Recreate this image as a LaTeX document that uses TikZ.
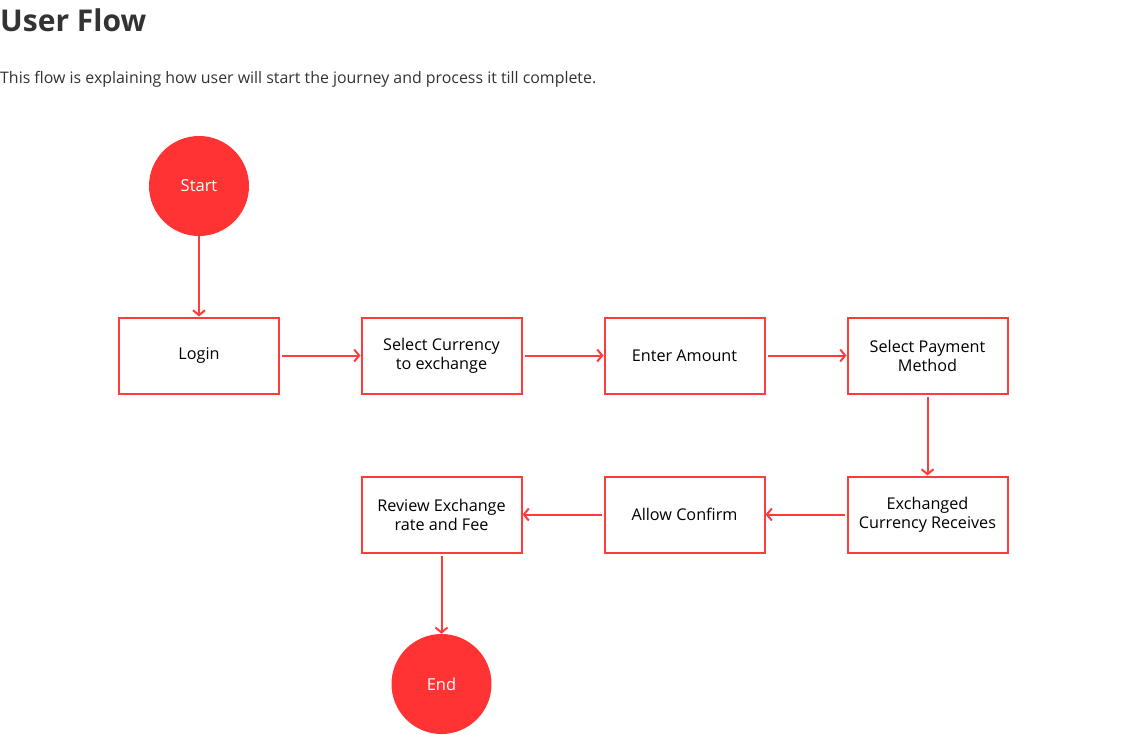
\documentclass[tikz,border=0pt]{standalone}
\usepackage{fontspec}
\setmainfont{Open Sans}
\usetikzlibrary{arrows.meta}
\definecolor{flowred}{HTML}{FF3B3B}
\definecolor{circred}{HTML}{FF3333}
\definecolor{titlegray}{HTML}{333333}
\tikzset{
  flowbox/.style={draw=flowred, line width=2pt, minimum width=160pt, minimum height=76pt, align=center, font=\fontsize{16.2}{19}\selectfont, text=black, inner sep=0pt},
  endpoint/.style={circle, fill=circred, minimum size=100pt, inner sep=0pt, text=white, font=\fontsize{16.5}{19}\selectfont},
  flowarrow/.style={draw=flowred, line width=2pt, -{Straight Barb[length=5pt,width=12pt,line width=2pt]}, shorten <=2pt}
}
\begin{document}
\begin{tikzpicture}[x=1pt,y=-1pt]
\useasboundingbox (0,0) rectangle (1131,734);
\node[anchor=base west, inner sep=0pt, text=titlegray, font=\fontsize{30}{36}\selectfont\bfseries] (title) at (0,31) {User Flow};
\node[anchor=base west, inner sep=0pt, text=titlegray, font=\fontsize{15.9}{19}\selectfont] (sub) at (0,83) {This flow is explaining how user will start the journey and process it till complete.};
\node[endpoint] (start) at (199,186) {Start};
\node[flowbox] (login) at (199,355.5) {Login};
\node[flowbox] (sel) at (441.5,355.5) {Select Currency\\to exchange};
\node[flowbox] (amt) at (684.5,355.5) {Enter Amount};
\node[flowbox] (pay) at (927.5,355.5) {Select Payment\\Method};
\node[flowbox] (exch) at (927.5,514.5) {Exchanged\\Currency Receives};
\node[flowbox] (allow) at (684.5,514.5) {Allow Confirm};
\node[flowbox] (rev) at (441.5,514.5) {Review Exchange\\rate and Fee};
\node[endpoint] (end) at (441.5,684) {End};
\draw[flowarrow, shorten <=0pt] (start) -- (login);
\draw[flowarrow] (login) -- (sel);
\draw[flowarrow] (sel) -- (amt);
\draw[flowarrow] (amt) -- (pay);
\draw[flowarrow] (pay) -- (exch);
\draw[flowarrow] (exch) -- (allow);
\draw[flowarrow] (allow) -- (rev);
\draw[flowarrow] (rev) -- (end);
\end{tikzpicture}
\end{document}
